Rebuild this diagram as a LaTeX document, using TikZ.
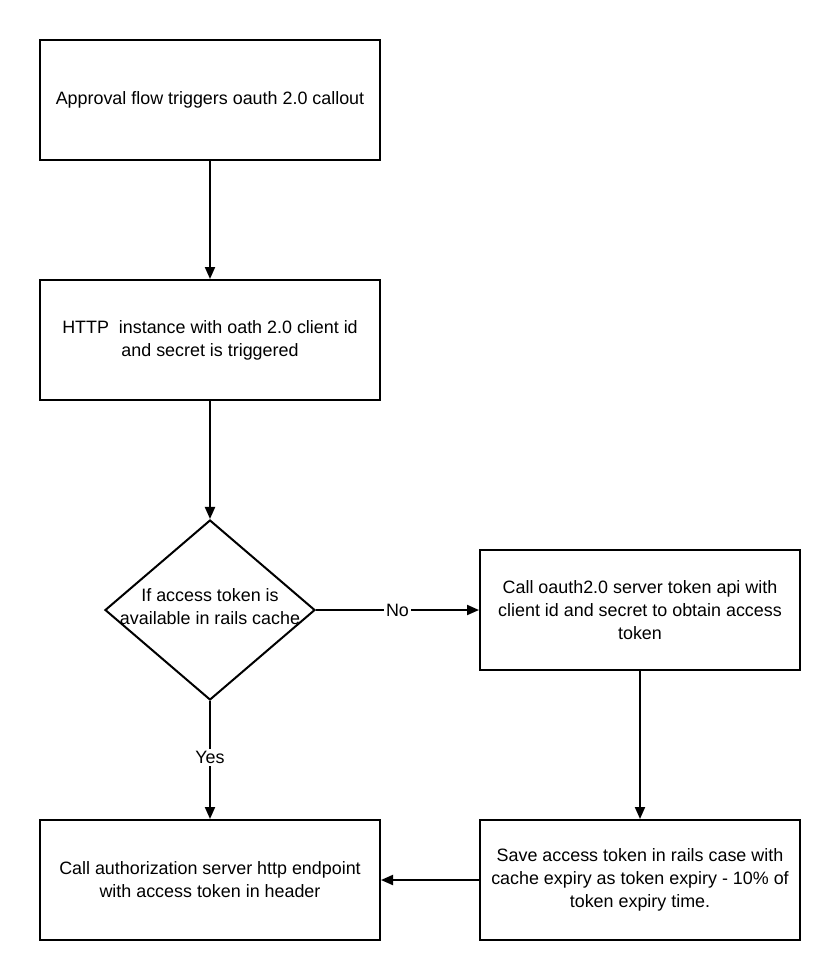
\documentclass[tikz,border=0pt]{standalone}
\usepackage{fontspec}
\setmainfont{Liberation Sans}
\usetikzlibrary{shapes.geometric,arrows.meta}
\tikzset{
  flowtext/.style={font=\fontsize{8.95}{11.5}\selectfont,align=center},
  stepbox/.style={draw,line width=1pt,minimum width=170pt,minimum height=60pt,inner sep=0pt,flowtext},
  sidebox/.style={stepbox,minimum width=160pt},
  decision/.style={draw,diamond,line width=1pt,minimum width=105pt,minimum height=90pt,inner sep=0pt},
  flow/.style={line width=1pt,-{Triangle[length=6pt,width=5pt]}},
  answer/.style={fill=white,inner sep=1pt,flowtext}
}
\begin{document}
\begin{tikzpicture}[x=0.5pt,y=-0.5pt]
    \useasboundingbox[fill=white] (0,0) rectangle (840,980);
    \node[stepbox] (trigger) at (210,100) {Approval flow triggers oauth 2.0 callout};
    \node[stepbox] (http) at (210,340) {HTTP\ \ instance with oath 2.0 client id\\and secret is triggered};
    \node[decision] (cache) at (210,610) {};
    \node[flowtext] (cachetext) at (210,607) {If access token is\\available in rails cache};
    \node[sidebox] (fetch) at (640,610) {Call oauth2.0 server token api with\\client id and secret to obtain access\\token};
    \node[stepbox] (endpoint) at (210,880) {Call authorization server http endpoint\\with access token in header};
    \node[sidebox] (save) at (640,880) {Save access token in rails case with\\cache expiry as token expiry - 10\% of\\token expiry time.};

    \draw[flow] (trigger) -- (http);
    \draw[flow] (http) -- (cache);
    \draw[flow] (cache.east) -- node[answer]{No} (fetch.west);
    \draw[flow] (cache.south) -- node[answer,pos=0.48]{Yes} (endpoint.north);
    \draw[flow] (fetch) -- (save);
    \draw[flow] (save) -- (endpoint);
  \end{tikzpicture}
\end{document}
